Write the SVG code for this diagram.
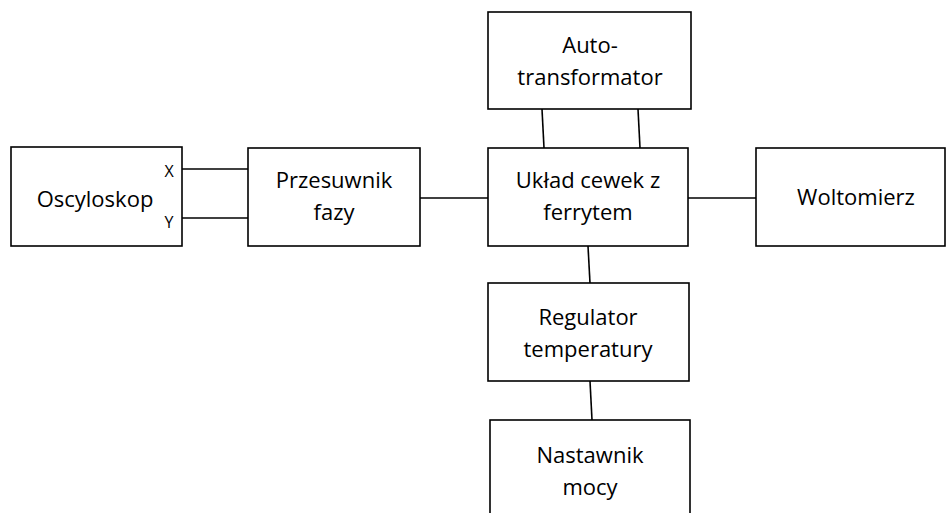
<svg xmlns="http://www.w3.org/2000/svg" width="948" height="513" viewBox="0 0 948 513">
<style>
.box{fill:#fff;stroke:#000;stroke-width:1.6}
.ln{stroke:#000;stroke-width:1.6;fill:none}
text{font-family:"Open Sans","Liberation Sans",sans-serif;font-size:22px;fill:#000;text-anchor:middle}
.sm{font-size:16px}
</style>
<rect width="948" height="513" fill="#fff"/>
<g id="connectors">
<line class="ln" x1="182" y1="169" x2="248" y2="169"/>
<line class="ln" x1="182" y1="218" x2="248" y2="218"/>
<line class="ln" x1="420" y1="198" x2="488" y2="198"/>
<line class="ln" x1="688" y1="198" x2="756" y2="198"/>
<line class="ln" x1="542" y1="109" x2="544" y2="148"/>
<line class="ln" x1="638" y1="109" x2="640" y2="148"/>
<line class="ln" x1="588" y1="246" x2="590" y2="283"/>
<line class="ln" x1="590" y1="381" x2="592" y2="420"/>
</g>
<g id="oscyloskop">
<rect class="box" x="11" y="147" width="171" height="99"/>
<text x="95" y="207">Oscyloskop</text>
<text class="sm" x="169" y="177">X</text>
<text class="sm" x="169" y="228">Y</text>
</g>
<g id="przesuwnik">
<rect class="box" x="248" y="148" width="172" height="98"/>
<text x="334" y="188">Przesuwnik</text>
<text x="334" y="220">fazy</text>
</g>
<g id="uklad">
<rect class="box" x="488" y="148" width="200" height="98"/>
<text x="588" y="188">Układ cewek z</text>
<text x="588" y="220">ferrytem</text>
</g>
<g id="autotransformator">
<rect class="box" x="488" y="12" width="203" height="97"/>
<text x="590" y="53">Auto-</text>
<text x="590" y="85">transformator</text>
</g>
<g id="woltomierz">
<rect class="box" x="756" y="148" width="189" height="98"/>
<text x="856" y="205">Woltomierz</text>
</g>
<g id="regulator">
<rect class="box" x="488" y="283" width="201" height="98"/>
<text x="588" y="325">Regulator</text>
<text x="588" y="357">temperatury</text>
</g>
<g id="nastawnik">
<rect class="box" x="490" y="420" width="200" height="100"/>
<text x="590" y="463">Nastawnik</text>
<text x="590" y="495">mocy</text>
</g>
</svg>
